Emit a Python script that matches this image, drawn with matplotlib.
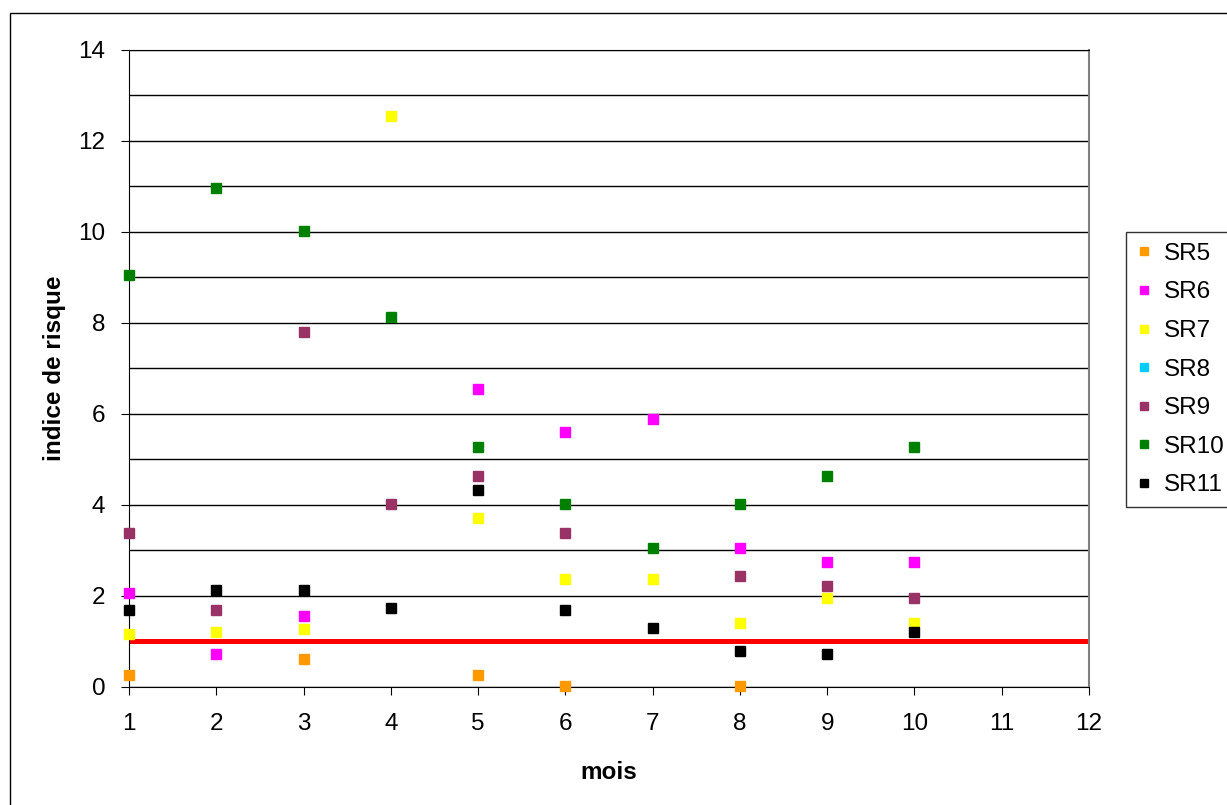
import matplotlib.pyplot as plt
from matplotlib.patches import Rectangle

plt.rcParams['font.family'] = ['Liberation Sans', 'DejaVu Sans']

# months
mois = [1, 2, 3, 4, 5, 6, 7, 8, 9, 10]

# risk index per station (None = no value)
sr5 = [0.26, None, 0.62, None, 0.26, 0.02, None, 0.02, None, None]
sr6 = [2.06, 0.72, 1.55, None, 6.55, 5.61, 5.90, 3.06, 2.74, 2.74]
sr7 = [1.16, 1.20, 1.27, 12.55, 3.71, 2.38, 2.38, 1.41, 1.95, 1.40]
sr8 = [None] * 10
sr9 = [3.39, 1.69, 7.80, 4.03, 4.64, 3.38, None, 2.45, 2.23, 1.95]
sr10 = [9.05, 10.97, 10.02, 8.13, 5.28, 4.03, 3.06, 4.03, 4.64, 5.28]
sr11 = [1.69, 2.13, 2.13, 1.74, 4.32, 1.70, 1.30, 0.80, 0.73, 1.20]

series = {
    "SR5": (sr5, "#FF9900"),
    "SR6": (sr6, "#FF00FF"),
    "SR7": (sr7, "#FFFF00"),
    "SR8": (sr8, "#00CCFF"),
    "SR9": (sr9, "#993366"),
    "SR10": (sr10, "#008000"),
    "SR11": (sr11, "#000000"),
}
seuil = 1

fig = plt.figure(figsize=(12.27, 8.05), dpi=100)
ax = fig.add_axes([0.1051, 0.1466, 0.7824, 0.7913])

# outer chart frame
fig.patches.append(Rectangle((10 / 1227, -0.1), 1.2, 1 - 13 / 805 + 0.1,
                             transform=fig.transFigure, fill=False,
                             edgecolor="black", linewidth=1))

ax.axhline(seuil, color="#FF0000", linewidth=3.6, zorder=2)

for name, (vals, col) in series.items():
    xs = [m for m, v in zip(mois, vals) if v is not None]
    ys = [v for v in vals if v is not None]
    ax.plot(xs, ys, linestyle="None", marker="s", markersize=7,
            color=col, markeredgecolor=col, label=name, clip_on=False, zorder=3)

ax.set_xlim(1, 12)
ax.set_ylim(0, 14)
ax.set_xticks(range(1, 13))
ax.set_yticks(range(0, 15, 2))
ax.set_yticks(range(0, 15), minor=True)
ax.yaxis.grid(True, which="both", color="black", linewidth=1)
ax.set_axisbelow(True)
ax.tick_params(axis="y", which="minor", length=0)
ax.tick_params(axis="both", which="major", labelsize=17.5, length=6,
               direction="out", color="black")
ax.tick_params(axis="x", pad=12.5)
ax.tick_params(axis="y", pad=11)

for side in ["left", "bottom", "top"]:
    ax.spines[side].set_color("black")
ax.spines["right"].set_color("#808080")
ax.spines["right"].set_linewidth(1.5)

ax.set_xlabel("mois", fontsize=17.5, fontweight="bold", labelpad=19)
ax.set_ylabel("indice de risque", fontsize=17.5, fontweight="bold", labelpad=9)

leg = ax.legend(loc="upper left", bbox_to_anchor=(1126 / 1227, 1 - 232 / 805),
                bbox_transform=fig.transFigure, fontsize=17.5, frameon=True,
                fancybox=False, edgecolor="black", markerscale=0.9,
                handlelength=0.6, handletextpad=0.5, labelspacing=0.68,
                borderpad=0.45, borderaxespad=0)
leg.get_frame().set_linewidth(1)

fig.savefig("out.png", dpi=100)
